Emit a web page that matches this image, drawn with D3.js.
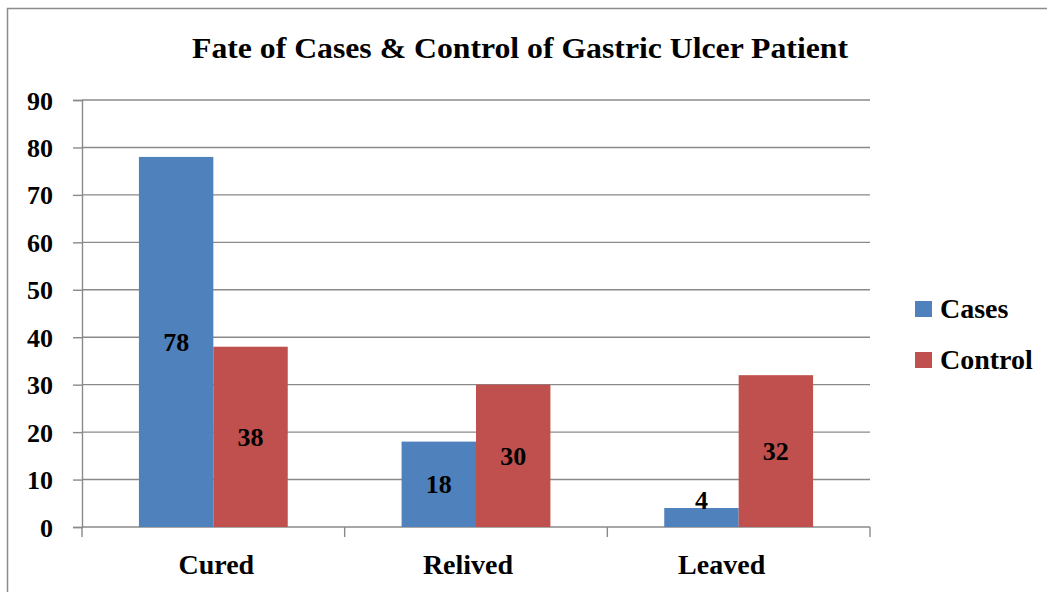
<!DOCTYPE html>
<html>
<head>
<meta charset="utf-8">
<script src="https://cdn.jsdelivr.net/npm/d3@7"></script>
<style>
  html, body { margin: 0; padding: 0; background: #fff; }
  svg { display: block; }
  text { font-family: "Liberation Serif", "Times New Roman", serif; font-weight: bold; fill: #000; }
</style>
</head>
<body>
<svg id="chart" width="1047" height="592"></svg>
<script>
const title = "Fate of Cases & Control of Gastric Ulcer Patient";
const categories = ["Cured", "Relived", "Leaved"];
const seriesNames = ["Cases", "Control"];
const casesValues = [78, 18, 4];
const controlValues = [38, 30, 32];
const yTicks = [0, 10, 20, 30, 40, 50, 60, 70, 80, 90];
const seriesColors = ["#4F81BD", "#C0504D"];

const svg = d3.select("#chart");
const W = 1047, H = 592;

// layout: small horizontal nudges of category labels as in the original
const catLabelNudge = { "Cured": 3, "Relived": -8, "Leaved": -17 };

// outer chart border
svg.append("rect")
  .attr("x", 7.5).attr("y", 8.5)
  .attr("width", W + 20).attr("height", H + 20)
  .attr("fill", "#fff").attr("stroke", "#8c8c8c").attr("stroke-width", 1.5);

const plot = { left: 82, right: 870, top: 100, bottom: 527 };

const x0 = d3.scaleBand().domain(categories).range([plot.left, plot.right]).paddingInner(0).paddingOuter(0);
const groupPad = 0.2167;
const x1 = d3.scaleBand().domain(seriesNames)
  .range([x0.bandwidth() * groupPad, x0.bandwidth() * (1 - groupPad)]).padding(0);
const y = d3.scaleLinear().domain([0, 90]).range([plot.bottom, plot.top]);

// gridlines
svg.append("g").selectAll("line").data(yTicks.filter(d => d > 0)).join("line")
  .attr("x1", plot.left).attr("x2", plot.right)
  .attr("y1", d => y(d)).attr("y2", d => y(d))
  .attr("stroke", "#8a8a8a").attr("stroke-width", 1.4);

// y axis
const yAxis = d3.axisLeft(y).tickValues(yTicks).tickSize(9).tickPadding(20);
const gy = svg.append("g").attr("transform", `translate(${plot.left},0)`).call(yAxis);
gy.select(".domain").attr("stroke", "#8a8a8a").attr("stroke-width", 1.4);
gy.selectAll(".tick line").attr("stroke", "#8a8a8a").attr("stroke-width", 1.4);
gy.selectAll(".tick text")
  .style("font-family", '"Liberation Serif", "Times New Roman", serif')
  .style("font-weight", "bold").style("font-size", "26px").attr("fill", "#000").attr("dy", "0.35em");

// x axis
const xAxis = d3.axisBottom(x0).tickSize(0).tickPadding(27);
const gx = svg.append("g").attr("transform", `translate(0,${plot.bottom})`).call(xAxis);
gx.select(".domain").attr("stroke", "#8a8a8a").attr("stroke-width", 1.4)
  .attr("d", `M${plot.left},0H${plot.right}`);
gx.selectAll(".tick text")
  .style("font-family", '"Liberation Serif", "Times New Roman", serif')
  .style("font-weight", "bold").style("font-size", "28px").attr("fill", "#000").attr("dy", "0.71em")
  .attr("dx", d => catLabelNudge[d] || 0);
// category boundary ticks
const boundaries = categories.map(c => x0(c)).concat([x0(categories[categories.length - 1]) + x0.bandwidth()]);
svg.append("g").selectAll("line").data(boundaries).join("line")
  .attr("x1", d => d).attr("x2", d => d)
  .attr("y1", plot.bottom).attr("y2", plot.bottom + 10)
  .attr("stroke", "#8a8a8a").attr("stroke-width", 1.4);

// bars
const data = categories.map((c, i) => ({ cat: c, values: [
  { s: seriesNames[0], v: casesValues[i], color: seriesColors[0] },
  { s: seriesNames[1], v: controlValues[i], color: seriesColors[1] }
]}));

const groups = svg.append("g").selectAll("g").data(data).join("g")
  .attr("transform", d => `translate(${x0(d.cat)},0)`);

groups.selectAll("rect").data(d => d.values).join("rect")
  .attr("x", d => x1(d.s)).attr("width", x1.bandwidth())
  .attr("y", d => y(d.v)).attr("height", d => y(0) - y(d.v))
  .attr("fill", d => d.color);

groups.selectAll("text.lbl").data(d => d.values).join("text")
  .attr("class", "lbl")
  .attr("x", d => x1(d.s) + x1.bandwidth() / 2)
  .attr("y", d => Math.min((y(d.v) + y(0)) / 2, y(0) - 27))
  .attr("text-anchor", "middle").attr("dy", "0.35em")
  .style("font-size", "26px")
  .text(d => d.v);

// title
svg.append("text").attr("x", 520).attr("y", 58).attr("text-anchor", "middle")
  .style("font-size", "30px")
  .attr("textLength", 656).attr("lengthAdjust", "spacingAndGlyphs")
  .text(title);

// legend
const legend = svg.append("g").selectAll("g").data(seriesNames).join("g")
  .attr("transform", (d, i) => `translate(915,${301 + i * 51})`);
legend.append("rect").attr("width", 17).attr("height", 16).attr("fill", (d, i) => seriesColors[i]);
legend.append("text").attr("x", 25).attr("y", 17).style("font-size", "28px").text(d => d);
</script>
</body>
</html>
